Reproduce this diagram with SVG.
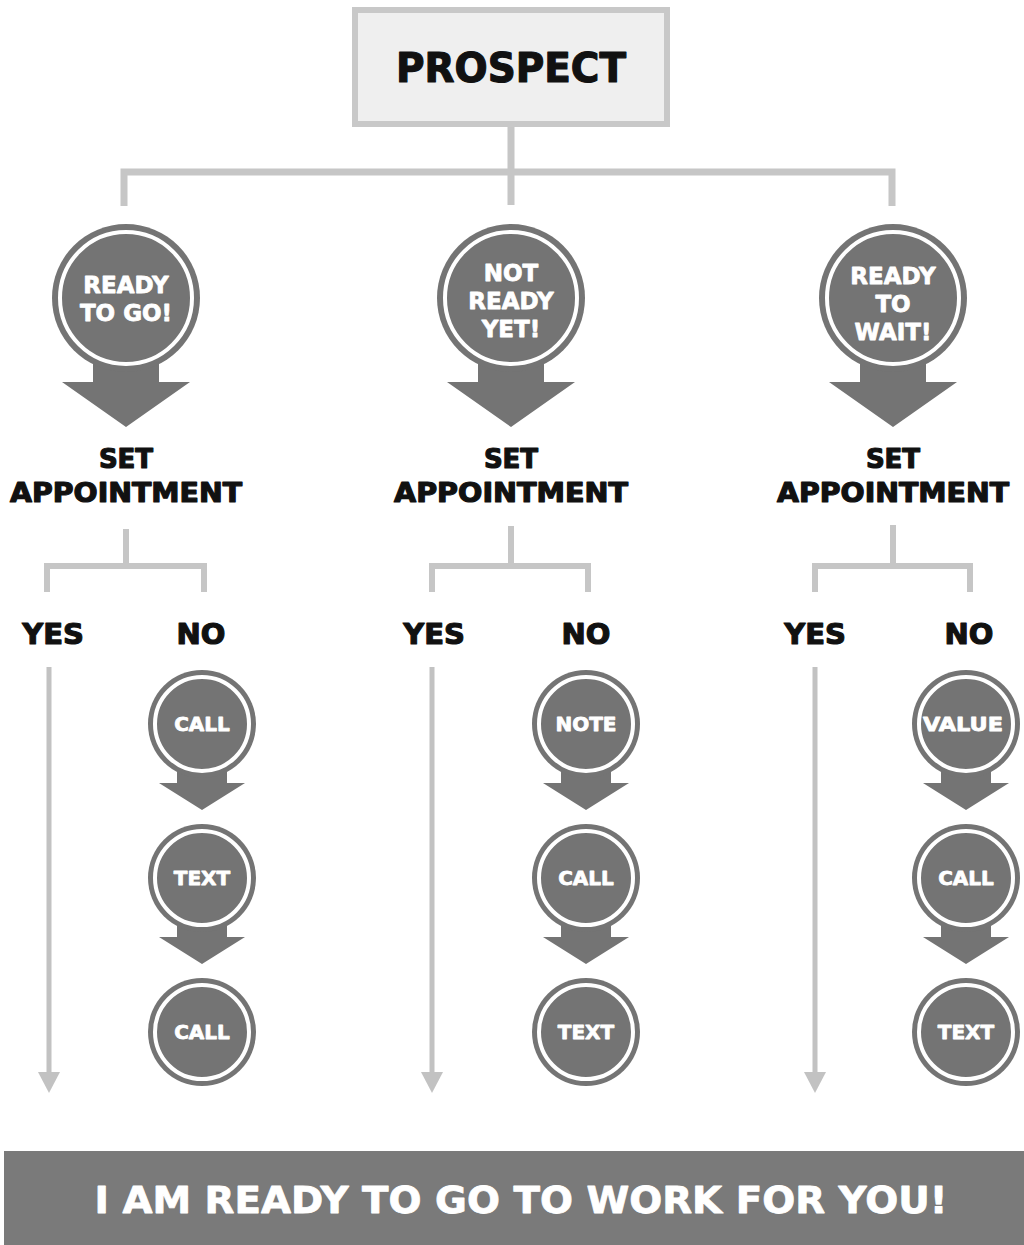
<svg xmlns="http://www.w3.org/2000/svg" width="1024" height="1245" viewBox="0 0 1024 1245">
<defs>
<style>
.t{font-family:"DejaVu Sans","Liberation Sans",sans-serif;font-weight:bold;text-anchor:middle}
.blk{fill:#111;stroke:#111;stroke-width:1.2;stroke-linejoin:round}
.wht{fill:#fff;stroke:#fff;stroke-width:0.8;stroke-linejoin:round}
.conn{stroke:#c6c6c6;fill:none;stroke-linecap:butt}
.yes{stroke:#c2c2c2;stroke-width:5;fill:none}
.yh{fill:#c2c2c2}
.dk{fill:#747474}
.ring{fill:none;stroke:#fff;stroke-width:4}
</style>
<g id="bigNode">
<polygon class="dk" points="-33,50 33,50 33,84 64,84 0,129 -64,84 -33,84"/>
<circle class="dk" r="74"/>
<circle class="ring" r="66"/>
</g>
<g id="smallNode">
<polygon class="dk" points="-25,38 25,38 25,59 43,59 0,86 -43,59 -25,59"/>
<circle class="dk" r="54"/>
<circle class="ring" r="47"/>
</g>
<g id="smallEnd">
<circle class="dk" r="54"/>
<circle class="ring" r="47"/>
</g>
</defs>
<rect width="1024" height="1245" fill="#fff"/>

<g id="connectors">
<path class="conn" stroke-width="7" d="M511 127 V205 M124 206 V172 H892 V206"/>
<path class="conn" stroke-width="6" d="M126 529 V566 M47 592 V566 H204 V592"/>
<path class="conn" stroke-width="6" d="M511 526 V566 M432 592 V566 H588 V592"/>
<path class="conn" stroke-width="6" d="M893 525 V566 M815 592 V566 H970 V592"/>
<line class="yes" x1="49" y1="667" x2="49" y2="1074"/>
<polygon class="yh" points="38,1072 60,1072 49,1093"/>
<line class="yes" x1="432" y1="667" x2="432" y2="1074"/>
<polygon class="yh" points="421,1072 443,1072 432,1093"/>
<line class="yes" x1="815" y1="667" x2="815" y2="1074"/>
<polygon class="yh" points="804,1072 826,1072 815,1093"/>
</g>

<g id="prospect">
<rect x="355" y="10" width="312" height="114" fill="#efefef" stroke="#c8c8c8" stroke-width="6"/>
<text class="t blk" x="511" y="82" font-size="40" stroke-width="1.8" textLength="230" lengthAdjust="spacingAndGlyphs">PROSPECT</text>
</g>

<g id="ready-to-go">
<use href="#bigNode" x="126" y="298"/>
<text class="t wht" x="126" y="293" font-size="23">READY</text>
<text class="t wht" x="126" y="321" font-size="23">TO GO!</text>
</g>
<g id="not-ready-yet">
<use href="#bigNode" x="511" y="298"/>
<text class="t wht" x="511" y="281" font-size="23">NOT</text>
<text class="t wht" x="511" y="309" font-size="23">READY</text>
<text class="t wht" x="511" y="337" font-size="23">YET!</text>
</g>
<g id="ready-to-wait">
<use href="#bigNode" x="893" y="298"/>
<text class="t wht" x="893" y="284" font-size="23">READY</text>
<text class="t wht" x="893" y="312" font-size="23">TO</text>
<text class="t wht" x="893" y="340" font-size="23">WAIT!</text>
</g>

<g id="set-appt-1">
<text class="t blk" x="126" y="468" font-size="26">SET</text>
<text class="t blk" x="126" y="502" font-size="26" textLength="232" lengthAdjust="spacingAndGlyphs">APPOINTMENT</text>
</g>
<g id="set-appt-2">
<text class="t blk" x="511" y="468" font-size="26">SET</text>
<text class="t blk" x="511" y="502" font-size="26" textLength="234" lengthAdjust="spacingAndGlyphs">APPOINTMENT</text>
</g>
<g id="set-appt-3">
<text class="t blk" x="893" y="468" font-size="26">SET</text>
<text class="t blk" x="893" y="502" font-size="26" textLength="232" lengthAdjust="spacingAndGlyphs">APPOINTMENT</text>
</g>

<g id="yes-no-labels">
<text class="t blk" x="53" y="644" font-size="29">YES</text>
<text class="t blk" x="201" y="644" font-size="29">NO</text>
<text class="t blk" x="434" y="644" font-size="29">YES</text>
<text class="t blk" x="586" y="644" font-size="29">NO</text>
<text class="t blk" x="815" y="644" font-size="29">YES</text>
<text class="t blk" x="969" y="644" font-size="29">NO</text>
</g>

<g id="col1-call">
<use href="#smallNode" x="202" y="724"/>
<text class="t wht" x="202" y="731" font-size="20">CALL</text>
</g>
<g id="col1-text">
<use href="#smallNode" x="202" y="878"/>
<text class="t wht" x="202" y="885" font-size="20">TEXT</text>
</g>
<g id="col1-call2">
<use href="#smallEnd" x="202" y="1032"/>
<text class="t wht" x="202" y="1039" font-size="20">CALL</text>
</g>

<g id="col2-note">
<use href="#smallNode" x="586" y="724"/>
<text class="t wht" x="586" y="731" font-size="20">NOTE</text>
</g>
<g id="col2-call">
<use href="#smallNode" x="586" y="878"/>
<text class="t wht" x="586" y="885" font-size="20">CALL</text>
</g>
<g id="col2-text">
<use href="#smallEnd" x="586" y="1032"/>
<text class="t wht" x="586" y="1039" font-size="20">TEXT</text>
</g>

<g id="col3-value">
<use href="#smallNode" x="966" y="724"/>
<text class="t wht" x="963" y="731" font-size="20" textLength="80" lengthAdjust="spacingAndGlyphs">VALUE</text>
</g>
<g id="col3-call">
<use href="#smallNode" x="966" y="878"/>
<text class="t wht" x="966" y="885" font-size="20">CALL</text>
</g>
<g id="col3-text">
<use href="#smallEnd" x="966" y="1032"/>
<text class="t wht" x="966" y="1039" font-size="20">TEXT</text>
</g>

<g id="banner">
<rect x="4" y="1151" width="1020" height="94" fill="#7a7a7a"/>
<text class="t wht" x="521" y="1213" font-size="38" stroke-width="1.4" textLength="853" lengthAdjust="spacingAndGlyphs">I AM READY TO GO TO WORK FOR YOU!</text>
</g>
</svg>
